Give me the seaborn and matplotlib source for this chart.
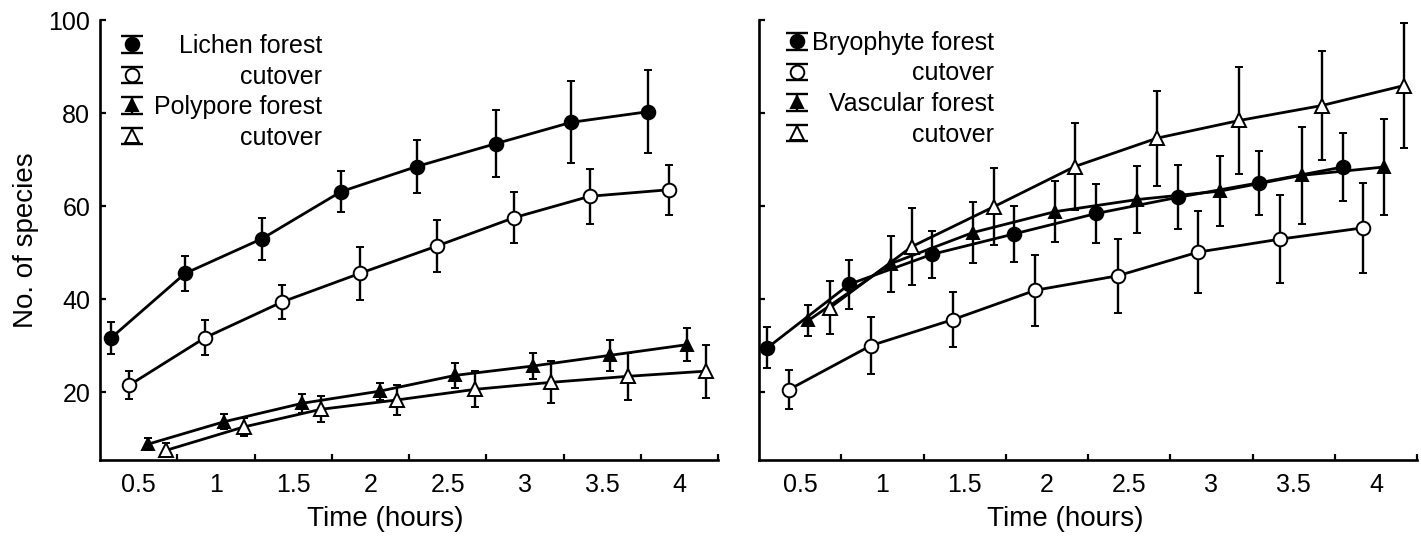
import numpy as np
import pandas as pd
import matplotlib
matplotlib.use("Agg")
import matplotlib.pyplot as plt
import seaborn as sns
from matplotlib.container import ErrorbarContainer
from matplotlib.lines import Line2D
from matplotlib.collections import LineCollection
from matplotlib.legend_handler import HandlerErrorbar

# ---------------- data ----------------
x_ticks = [0.5, 1, 1.5, 2, 2.5, 3, 3.5, 4]
x_tick_labels = ["0.5", "1", "1.5", "2", "2.5", "3", "3.5", "4"]
y_ticks = [20, 40, 60, 80, 100]
y_tick_labels = ["20", "40", "60", "80", "100"]

# Left panel
lichen_forest_t = [0.32, 0.80, 1.30, 1.81, 2.30, 2.81, 3.30, 3.80]
lichen_forest_y = [31.6, 45.5, 53.0, 63.1, 68.5, 73.4, 78.0, 80.3]
lichen_forest_e = [3.4, 3.8, 4.5, 4.4, 5.7, 7.2, 8.8, 8.9]

lichen_cut_t = [0.44, 0.93, 1.43, 1.93, 2.43, 2.93, 3.42, 3.93]
lichen_cut_y = [21.5, 31.7, 39.4, 45.5, 51.4, 57.5, 62.1, 63.5]
lichen_cut_e = [3.0, 3.7, 3.7, 5.7, 5.6, 5.5, 5.9, 5.4]

polypore_forest_t = [0.56, 1.05, 1.56, 2.06, 2.55, 3.05, 3.55, 4.05]
polypore_forest_y = [8.8, 13.6, 17.6, 20.2, 23.6, 25.6, 27.9, 30.2]
polypore_forest_e = [1.3, 1.6, 2.0, 1.8, 2.7, 2.8, 3.3, 3.5]

polypore_cut_t = [0.68, 1.18, 1.68, 2.17, 2.68, 3.17, 3.67, 4.17]
polypore_cut_y = [7.5, 12.5, 16.3, 18.3, 20.6, 22.1, 23.4, 24.5]
polypore_cut_e = [1.5, 2.0, 2.8, 3.2, 3.9, 4.5, 5.1, 5.7]

# Right panel
bryo_forest_t = [0.30, 0.80, 1.30, 1.80, 2.30, 2.80, 3.29, 3.80]
bryo_forest_y = [29.5, 43.2, 49.6, 54.0, 58.4, 61.9, 65.0, 68.4]
bryo_forest_e = [4.4, 5.3, 5.0, 6.0, 6.4, 6.9, 6.9, 7.3]

bryo_cut_t = [0.43, 0.93, 1.43, 1.93, 2.43, 2.92, 3.42, 3.92]
bryo_cut_y = [20.5, 30.0, 35.6, 41.9, 45.0, 50.1, 52.9, 55.3]
bryo_cut_e = [4.2, 6.2, 5.9, 7.6, 7.9, 8.9, 9.4, 9.6]

vasc_forest_t = [0.55, 1.05, 1.55, 2.05, 2.55, 3.05, 3.55, 4.05]
vasc_forest_y = [35.4, 47.6, 54.3, 58.8, 61.4, 63.2, 66.6, 68.4]
vasc_forest_e = [3.4, 6.0, 6.5, 6.5, 7.2, 7.5, 10.5, 10.4]

vasc_cut_t = [0.68, 1.18, 1.68, 2.17, 2.67, 3.17, 3.67, 4.17]
vasc_cut_y = [38.1, 51.3, 59.9, 68.5, 74.6, 78.4, 81.6, 85.9]
vasc_cut_e = [5.7, 8.2, 8.3, 9.3, 10.2, 11.5, 11.7, 13.5]

left_labels = ["Lichen forest", "cutover", "Polypore forest", "cutover"]
right_labels = ["Bryophyte forest", "cutover", "Vascular forest", "cutover"]

# ---------------- styling ----------------
sns.set_theme(style="ticks", rc={
    "axes.edgecolor": "black", "text.color": "black", "axes.labelcolor": "black",
    "xtick.color": "black", "ytick.color": "black", "axes.grid": False,
})
plt.rcParams["font.family"] = ["Liberation Sans", "DejaVu Sans"]

W, H = 1421, 539
fig = plt.figure(figsize=(W / 100, H / 100), dpi=100)
axL = fig.add_axes([100 / W, 1 - 460 / H, 618 / W, 440 / H])
axR = fig.add_axes([759 / W, 1 - 460 / H, 658 / W, 440 / H])

marker_styles = [("o", "black", 9.8), ("o", "white", 9.8), ("^", "black", 9.3), ("^", "white", 9.8)]


def draw_series(ax, t, y, e, style):
    marker, face, ms = style
    df = pd.DataFrame({"t": t, "y": y})
    sns.lineplot(data=df, x="t", y="y", ax=ax, color="black", lw=2.0,
                 sort=False, legend=False, zorder=2)
    ax.errorbar(t, y, yerr=e, fmt=marker, ms=ms, mfc=face, mec="black", mew=1.4,
                ecolor="black", elinewidth=1.7, capsize=2.6, capthick=1.7, zorder=3)


def legend_handle(style):
    marker, face, ms = style
    mk = Line2D([], [], marker=marker, ls="none", ms=ms, mfc=face, mec="black", mew=1.4)
    cap = Line2D([], [], marker="_", ls="none", ms=16, mew=1.7, color="black")
    bar = LineCollection([], colors="black", linewidths=1.7)
    return ErrorbarContainer((mk, (cap, cap), (bar,)), has_xerr=False, has_yerr=True)


left_series = [
    (lichen_forest_t, lichen_forest_y, lichen_forest_e),
    (lichen_cut_t, lichen_cut_y, lichen_cut_e),
    (polypore_forest_t, polypore_forest_y, polypore_forest_e),
    (polypore_cut_t, polypore_cut_y, polypore_cut_e),
]
right_series = [
    (bryo_forest_t, bryo_forest_y, bryo_forest_e),
    (bryo_cut_t, bryo_cut_y, bryo_cut_e),
    (vasc_forest_t, vasc_forest_y, vasc_forest_e),
    (vasc_cut_t, vasc_cut_y, vasc_cut_e),
]

for ax, series in ((axL, left_series), (axR, right_series)):
    for (t, y, e), st in zip(series, marker_styles):
        draw_series(ax, t, y, e, st)

for ax in (axL, axR):
    ax.set_xlim(0.25, 4.25)
    ax.set_ylim(5.4, 100)
    ax.set_xticks(x_ticks)
    ax.set_xticklabels(x_tick_labels)
    ax.set_xticks(np.arange(0.75, 4.3, 0.5), minor=True)
    ax.tick_params(axis="x", which="major", length=0, pad=9, labelsize=18)
    ax.tick_params(axis="x", which="minor", direction="in", length=4, width=1.6)
    ax.set_yticks(y_ticks)
    ax.set_yticklabels(y_tick_labels)
    ax.tick_params(axis="y", direction="in", length=4, width=1.6, pad=7, labelsize=18)
    for s in ("top", "right"):
        ax.spines[s].set_visible(False)
    for s in ("left", "bottom"):
        ax.spines[s].set_linewidth(1.9)
        ax.spines[s].set_color("black")
    ax.set_xlabel("Time (hours)", fontsize=20)
    ax.set_ylabel("")

axL.set_ylabel("No. of species", fontsize=20)
axL.yaxis.set_label_coords(-0.098, 0.5)
axL.xaxis.set_label_coords(0.461, -0.105)
axR.xaxis.set_label_coords(0.465, -0.105)
axR.tick_params(axis="y", labelleft=False)

hm = {ErrorbarContainer: HandlerErrorbar(xerr_size=0.5, yerr_size=0.33)}
for ax, labels, anchor, width in ((axL, left_labels, (0.033, 0.968), 202),
                                  (axR, right_labels, (0.039, 0.975), 209)):
    handles = [legend_handle(st) for st in marker_styles]
    leg = ax.legend(handles, labels, loc="upper left", bbox_to_anchor=anchor,
                    frameon=False, fontsize=18, handlelength=0.95, handletextpad=0.4,
                    labelspacing=0.26, borderpad=0, borderaxespad=0, handler_map=hm)
    # right-align label text while keeping the keys at the left
    for col in leg._legend_handle_box.get_children():
        for row in col.get_children():
            row.mode = "expand"
            row.width = width

fig.savefig("out.png", dpi=100)
